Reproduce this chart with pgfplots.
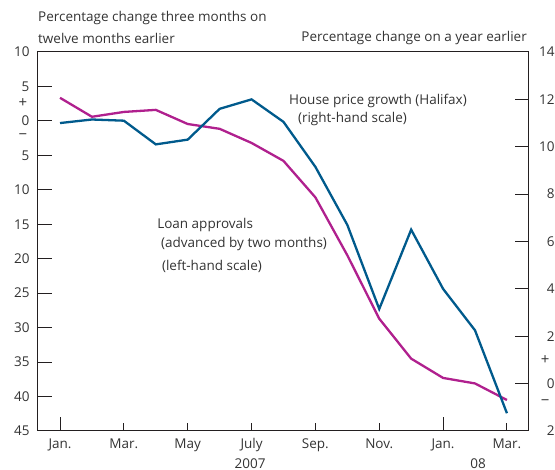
\documentclass[border=0pt]{standalone}
\usepackage{fontspec}
\setmainfont{Open Sans}
\usepackage{pgfplots}
\pgfplotsset{compat=1.18}
\definecolor{hpblue}{HTML}{005A8C}
\definecolor{loanmag}{HTML}{B0208E}
\definecolor{txt}{HTML}{333333}
\definecolor{axc}{HTML}{231F20}
\begin{document}
\begin{tikzpicture}[font=\fontsize{13.5}{16}\selectfont, text=txt]
\useasboundingbox (0,0) rectangle (555pt,470pt);
\pgfplotsset{every axis/.append style={
  at={(38pt,39pt)}, anchor=south west, scale only axis,
  width=490pt, height=379pt, xmin=-0.69, xmax=14.66,
  tick align=inside,
  axis line style={line width=1pt, axc},
  tick style={line width=1pt, axc},
  /pgf/number format/assume math mode=true,
  ticklabel style={font=\fontsize{13.5}{16}\selectfont, text=txt},
  xticklabel style={yshift=-4pt},
}}
% Left axis: loan approvals, with Jan. ticks
\begin{axis}[
  ymin=-45, ymax=10,
  ytick={-45,-40,...,10},
  yticklabels={45,40,35,30,25,20,15,10,5,0,5,10},
  ytick pos=left,
  yticklabel style={xshift=-5pt},
  xtick={0,12}, xticklabels={Jan.,Jan.}, xtick pos=bottom,
  major tick length=14pt,
  clip=false,
]
\addplot[loanmag, line width=2.3pt] coordinates {
(0,3.35) (1,0.6) (2,1.3) (3,1.6) (4,-0.45) (5,-1.15) (6,-3.2) (7,-5.8)
(8,-11.1) (9,-19.5) (10,-28.7) (11,-34.5) (12,-37.3) (13,-38.1) (14,-40.5)};
\node[anchor=west, inner sep=0] at (axis cs:7.17,2.9) {House price growth (Halifax)};
\node[anchor=west, inner sep=0] at (axis cs:7.45,0.29) {(right-hand scale)};
\node[anchor=west, inner sep=0] at (axis cs:3.04,-15.14) {Loan approvals};
\node[anchor=west, inner sep=0] at (axis cs:3.16,-17.9) {(advanced by two months)};
\node[anchor=west, inner sep=0] at (axis cs:3.19,-21.1) {(left-hand scale)};
\node[inner sep=0, font=\fontsize{15}{16}\selectfont] at (axis description cs:-0.031,0.866) {+};
\node[inner sep=0, font=\fontsize{15}{16}\selectfont] at (axis description cs:-0.031,0.778) {−};
\node[inner sep=0, font=\fontsize{15}{16}\selectfont] at (axis description cs:1.035,0.187) {+};
\node[inner sep=0, font=\fontsize{15}{16}\selectfont] at (axis description cs:1.035,0.074) {−};
\node[anchor=west, inner sep=0] at (axis description cs:0,1.0897) {Percentage change three months on};
\node[anchor=west, inner sep=0] at (axis description cs:0,1.037) {twelve months earlier};
\node[anchor=east, inner sep=0] at (axis description cs:0.998,1.037) {Percentage change on a year earlier};
\node[inner sep=0] at (axis description cs:0.433,-0.085) {2007};
\node[inner sep=0] at (axis description cs:0.898,-0.085) {08};
\end{axis}
% Right axis: house price growth
\begin{axis}[
  ymin=-2, ymax=14,
  ytick={-2,0,...,14},
  yticklabels={2,0,2,4,6,8,10,12,14},
  axis y line*=right, axis x line=none,
  yticklabel style={anchor=east, xshift=30pt},
  major tick length=13pt,
]
\addplot[hpblue, line width=2.3pt] coordinates {
(0,11.0) (1,11.15) (2,11.1) (3,10.1) (4,10.3) (5,11.6) (6,12.0) (7,11.05)
(8,9.15) (9,6.7) (10,3.15) (11,6.5) (12,4.0) (13,2.25) (14,-1.25)};
\end{axis}
% Other month ticks
\begin{axis}[
  ymin=0, ymax=1,
  axis y line=none, axis x line*=bottom,
  xtick={2,4,6,8,10,14},
  xticklabels={Mar.,May,July,Sep.,Nov.,Mar.},
  major tick length=8pt,
]
\end{axis}
\end{tikzpicture}
\end{document}
